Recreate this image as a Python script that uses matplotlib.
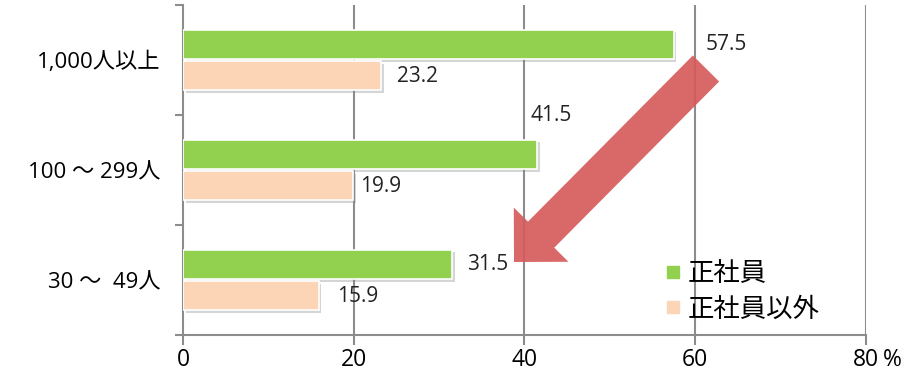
import matplotlib
matplotlib.use('Agg')
import matplotlib.pyplot as plt
import matplotlib.patheffects as pe
import matplotlib.transforms as mtransforms
from matplotlib.patches import FancyArrow
from matplotlib.lines import Line2D
import numpy as np

plt.rcParams['font.family'] = ['Open Sans', 'Noto Sans CJK JP', 'DejaVu Sans']

# 企業規模別の割合（%）
categories = ['1,000人以上', '100 ～ 299人', '30 ～  49人']
seishain = [57.5, 41.5, 31.5]
hiseishain = [23.2, 19.9, 15.9]
series_names = ['正社員', '正社員以外']
xticks = [0, 20, 40, 60, 80]

GREEN = '#92d050'
PEACH = '#fbd5b5'
GRID = '#8c8c8c'

# ラベルの位置調整 (dx, dy)
seishain_label_off = [(3.7, 0.0), (-0.8, -0.355), (1.8, 0.005)]
hiseishain_label_off = [(1.9, 0.01), (0.8, 0.01), (2.1, 0.005)]

fig = plt.figure(figsize=(9.18, 3.71), dpi=100)
ax = fig.add_axes([0.1993, 0.097, 0.7437, 0.8895])

y = np.arange(len(categories))
h = 0.265
off = 0.143
shadow = [pe.SimplePatchShadow(offset=(2, -2), alpha=0.35, shadow_rgbFace='#888888'), pe.Normal()]

b1 = ax.barh(y - off, seishain, height=h, color=GREEN, edgecolor='white', linewidth=1.2, zorder=3)
b2 = ax.barh(y + off, hiseishain, height=h, color=PEACH, edgecolor='white', linewidth=1.2, zorder=3)
for bar in list(b1) + list(b2):
    bar.set_path_effects(shadow)

for i in range(len(categories)):
    dx, dy = seishain_label_off[i]
    ax.text(seishain[i] + dx, y[i] - off + dy, f'{seishain[i]:.1f}', fontsize=15,
            va='center', ha='left', color='#222222', zorder=5)
    dx, dy = hiseishain_label_off[i]
    ax.text(hiseishain[i] + dx, y[i] + off + dy, f'{hiseishain[i]:.1f}', fontsize=15,
            va='center', ha='left', color='#222222', zorder=5)

ax.set_xlim(0, 80)
ax.set_ylim(len(categories) - 0.5, -0.5)
ax.set_xticks(xticks)
ax.set_xticklabels([str(t) for t in xticks], fontsize=16.5)
ax.set_yticks(y)
ax.set_yticklabels(categories, fontsize=16)
ax.set_yticks(np.arange(-0.5, len(categories), 1.0), minor=True)
ax.tick_params(axis='y', which='major', length=0, pad=16)
ax.tick_params(axis='y', which='minor', length=6, width=1.5, color=GRID)
ax.tick_params(axis='x', length=7, width=1.5, color=GRID, pad=2)
ax.text(1.025, -0.077, '%', transform=ax.transAxes, fontsize=16.5, ha='left', va='center')

for x in xticks[1:]:
    ax.axvline(x, color=GRID, linewidth=1.5, zorder=1)
for side in ['top', 'right']:
    ax.spines[side].set_visible(False)
for side in ['left', 'bottom']:
    ax.spines[side].set_color(GRID)
    ax.spines[side].set_linewidth(1.5)

# 減少を示す矢印（ピクセル座標）
px = mtransforms.Affine2D().scale(1 / 100, -1 / 100).translate(0, 3.71) + fig.dpi_scale_trans
arrow = FancyArrow(706, 68.5, -192, 193.5, width=37, head_width=77, head_length=38.5,
                   length_includes_head=True, color='#d65c5c', alpha=0.92,
                   linewidth=0, transform=px, zorder=4)
fig.add_artist(arrow)

handles = [Line2D([], [], marker='s', linestyle='none', markersize=8, color=c)
           for c in (GREEN, PEACH)]
fig.legend(handles, series_names, loc='upper left', bbox_to_anchor=(0.707, 0.33),
           frameon=False, fontsize=19, handletextpad=0.15, labelspacing=0.4,
           borderpad=0, handlelength=0.8)

fig.savefig('out.png', dpi=100)
